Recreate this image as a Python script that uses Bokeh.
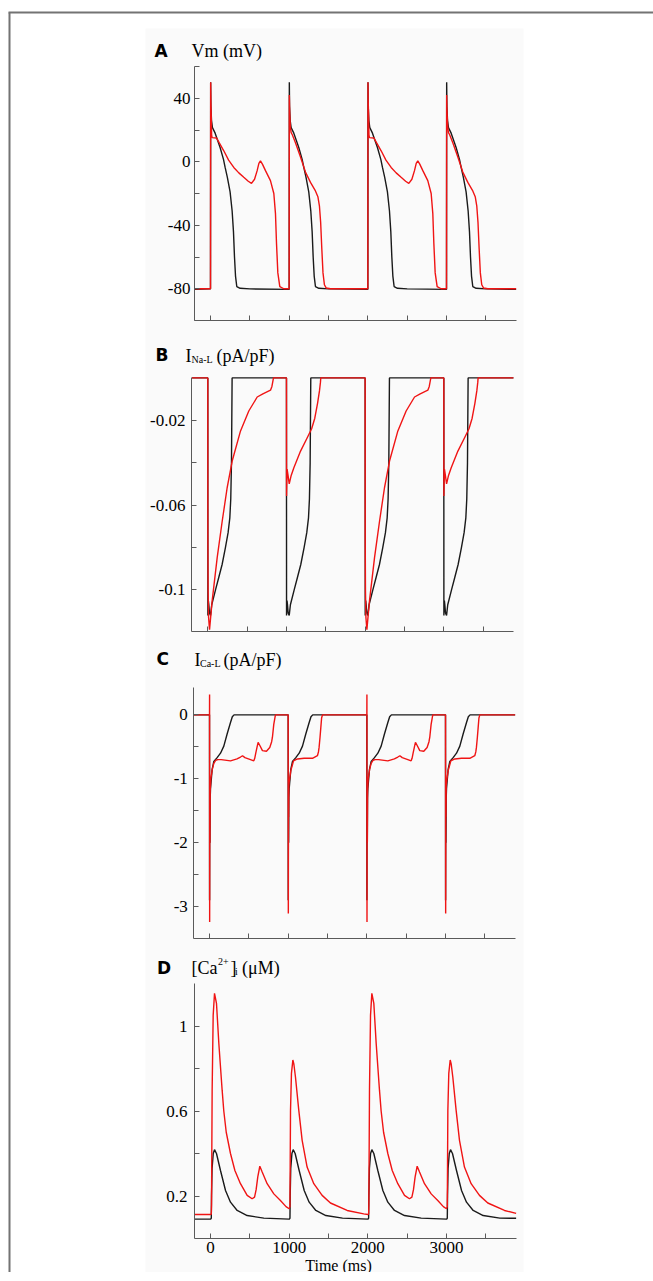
from bokeh.plotting import figure
from bokeh.models import Range1d, FixedTicker, LinearAxis
from bokeh.core.properties import value
from bokeh.embed import file_html
from bokeh.resources import INLINE

# ---------------- data ----------------
BEAT_STARTS = [0, 1000, 2000, 3000]
T_FIRST = -200
T_LAST = 3885
X_TICKS_MAJOR = [0, 1000, 2000, 3000]
X_TICKS_MINOR = [500, 1500, 2500, 3500]
X_TICK_LABELS = ["0", "1000", "2000", "3000"]

# A: membrane potential (mV); times relative to each stimulus
VM_BLACK_T = [0, 2, 5, 13, 25, 59, 122, 165, 186, 215, 249, 275, 292, 305, 318, 334, 377, 500, 1000]
VM_BLACK_V = [-80, 50, 35, 26, 21.5, 18, 9, 1.5, -3.6, -10, -19, -31, -44, -60, -72, -78.6, -79.7, -80.1, -80.4]
VM_RED_LONG_T = [0, 2, 5, 10, 14, 20, 76, 110, 169, 230, 296, 360, 423, 480, 521, 560, 593, 615, 635, 660,
                 699, 762, 805, 826, 839, 856, 881, 932, 1000]
VM_RED_LONG_V = [-80, 50, 38, 28, 17, 15.2, 15, 12, 6.9, 1, -3.6, -7, -9.8, -12.3, -13.6, -11, -5.6, -1, 0.6, -1.5,
                 -5.6, -11.9, -20, -32.7, -51.4, -70, -78.6, -80, -80]
VM_RED_SHORT_T = [0, 2, 5, 8, 15, 25, 40, 80, 144, 207, 271, 330, 365, 385, 400, 415, 430, 448, 470, 525, 1000]
VM_RED_SHORT_V = [-80, 42, 35, 30, 22, 18.3, 17, 12, 3, -6.5, -13, -18, -22, -28, -38, -55, -70, -77.5, -79.5, -80, -80]
VM_REST_BLACK, VM_END_BLACK = -80.4, -80.4
VM_REST_RED, VM_END_RED = -80, -80

# B: late sodium current I_Na-L (pA/pF)
INAL_BLACK_T = [0, 1, 7, 13, 22, 35, 50, 98, 140, 182, 224, 258, 280, 292, 301, 309, 1000]
INAL_BLACK_V = [0, -0.112, -0.105, -0.107, -0.111, -0.112, -0.107, -0.100, -0.094, -0.088, -0.080, -0.073,
                -0.066, -0.057, -0.040, 0, 0]
INAL_RED_LONG_T = [0, 1, 4, 10, 22, 55, 119, 183, 246, 310, 416, 521, 628, 700, 797, 815, 835, 1000]
INAL_RED_LONG_V = [0, -0.075, -0.1, -0.113, -0.1187, -0.1053, -0.0849, -0.0676, -0.0518, -0.0392, -0.025,
                   -0.0156, -0.009, -0.0075, -0.0058, -0.004, 0, 0]
INAL_RED_SHORT_T = [0, 1, 8, 20, 35, 60, 94, 179, 264, 320, 360, 395, 420, 432, 436, 1000]
INAL_RED_SHORT_V = [0, -0.0557, -0.043, -0.046, -0.050, -0.046, -0.0424, -0.0345, -0.0282, -0.024, -0.019,
                    -0.012, -0.006, -0.002, 0, 0]
INAL_REST, INAL_END = 0, 0

# C: L-type calcium current I_Ca-L (pA/pF)
ICAL_BLACK_T = [0, 1, 3, 6, 9, 13, 34, 55, 97, 140, 182, 224, 267, 290, 312, 1000]
ICAL_BLACK_V = [0, -2.9, -1.3, -2.0, -1.3, -1.15, -0.85, -0.73, -0.67, -0.6, -0.49, -0.3, -0.12, -0.03, 0, 0]
ICAL_RED_LONG_T = [0, 1, 2, 4, 6, 9, 17, 34, 55, 80, 106, 148, 267, 350, 394, 420, 450, 521, 563, 575, 588,
                   605, 618, 640, 673, 724, 766, 790, 800, 817, 838, 1000]
ICAL_RED_LONG_V = [0, 0.32, -3.24, -1.0, -2.0, -1.2, -1.0, -0.86, -0.76, -0.71, -0.70, -0.70, -0.72, -0.69,
                   -0.66, -0.64, -0.67, -0.70, -0.72, -0.68, -0.6, -0.5, -0.43, -0.48, -0.56, -0.57, -0.51,
                   -0.42, -0.35, -0.15, 0, 0]
ICAL_RED_SHORT_T = [0, 2, 4, 6, 9, 13, 34, 68, 118, 203, 309, 372, 385, 393, 405, 415, 425, 436, 1000]
ICAL_RED_SHORT_V = [0, -3.11, -1.2, -1.6, -1.1, -1.05, -0.87, -0.72, -0.69, -0.68, -0.68, -0.64, -0.58,
                    -0.51, -0.35, -0.2, -0.05, 0, 0]
ICAL_REST, ICAL_END = 0, 0

# D: intracellular calcium [Ca2+]i (uM)
CAI_BLACK_T = [0, 10, 13, 20, 35, 51, 76, 127, 191, 254, 339, 466, 678, 1000]
CAI_BLACK_V = [0.091, 0.095, 0.2, 0.33, 0.40, 0.418, 0.40, 0.32, 0.226, 0.171, 0.132, 0.108, 0.096, 0.091]
CAI_RED_LONG_T = [0, 10, 13, 21, 34, 51, 76, 106, 148, 169, 200, 254, 310, 381, 466, 529, 560, 580, 601, 627,
                  657, 720, 805, 889, 960, 1000]
CAI_RED_LONG_V = [0.113, 0.115, 0.16, 0.7, 1.05, 1.154, 1.107, 0.918, 0.698, 0.6, 0.5, 0.4, 0.32, 0.258,
                  0.203, 0.187, 0.195, 0.23, 0.29, 0.34, 0.313, 0.258, 0.21, 0.179, 0.15, 0.14]
CAI_RED_SHORT_T = [0, 10, 17, 29, 47, 60, 80, 122, 165, 228, 313, 419, 525, 737, 948, 1000]
CAI_RED_SHORT_V = [0.14, 0.15, 0.6, 0.777, 0.84, 0.82, 0.76, 0.604, 0.462, 0.336, 0.258, 0.203, 0.167,
                   0.132, 0.116, 0.113]
CAI_REST_BLACK, CAI_END_BLACK = 0.091, 0.095
CAI_REST_RED, CAI_END_RED = 0.113, 0.118

# y ticks: labelled (major) and unlabelled (minor)
A_YT = [-80, -40, 0, 40]
A_YT_MINOR = [-100, -60, -20, 20, 60]
B_YT = [-0.1, -0.06, -0.02]
B_YT_MINOR = [-0.08, -0.04]
C_YT = [-3, -2, -1, 0]
C_YT_MINOR = [-2.5, -1.5, -0.5]
D_YT = [0.2, 0.6, 1]
D_YT_MINOR = [0.4, 0.8]

# panel headings
TITLE_A = ["A", "Vm (mV)"]
TITLE_B = ["B", "I", "Na-L", "(pA/pF)"]
TITLE_C = ["C", "I", "Ca-L", "(pA/pF)"]
TITLE_D = ["D", "[Ca", "2+", "]", "i", "(\u03bcM)"]
X_LABEL = "Time (ms)"


def train(shapes, rest, end):
    ts, vs = [T_FIRST], [rest]
    for start, (bt, bv) in zip(BEAT_STARTS, shapes):
        for x, v in zip(bt, bv):
            if start + x < T_LAST:
                ts.append(start + x)
                vs.append(v)
    ts.append(T_LAST)
    vs.append(end)
    return ts, vs


# ---------------- styling / layout (page pixel geometry) ----------------
RED = "#f01414"
BLACK = "#1a1a1a"
AXIS = "#5a5a5a"
FRAME_COL = "#737373"
PANEL_BG = "#fafafa"
SERIF = "Liberation Serif"
SANS = "DejaVu Sans"
W = 653
H = 1272
PX_PER_MS = 0.07867
AXIS_W_PX = 322

# one canvas; default ranges are page pixels (y downwards), each panel has its own data ranges
p = figure(width=W, height=H, min_border=0, title=None,
           x_range=Range1d(0, W), y_range=Range1d(H, 0),
           x_axis_type=None, y_axis_type=None,
           toolbar_location=None, output_backend="svg")
p.outline_line_color = None
p.background_fill_color = "white"
p.border_fill_color = "white"

# grey backdrop of the original image and its frame rules
p.quad(left=[145], right=[523], top=[28], bottom=[H], fill_color=PANEL_BG, line_color=None)
p.line([9, 9], [12, H], line_color=FRAME_COL, line_width=2)
p.line([8, W], [12, 12], line_color=FRAME_COL, line_width=2)


def panel(name, t0_px, axis_px, frame_top_px, v_top, ppu, y0, yt, yt_minor, y_standoff, show_x_labels):
    def xd(px):
        return (px - t0_px) / PX_PER_MS

    def yd(py):
        return v_top - (py - frame_top_px) / ppu

    p.extra_x_ranges[name] = Range1d(xd(0), xd(W))
    p.extra_y_ranges[name] = Range1d(yd(H), yd(0))
    x_start = xd(axis_px)
    x_end = xd(axis_px + AXIS_W_PX)

    ya = LinearAxis(x_range_name=name, y_range_name=name, fixed_location=x_start, bounds=(y0, v_top),
                    ticker=FixedTicker(ticks=yt, minor_ticks=yt_minor),
                    major_label_standoff=y_standoff,
                    major_label_overrides={t: ("1" if t == 1 else str(t)) for t in yt})
    xa = LinearAxis(x_range_name=name, y_range_name=name, fixed_location=y0, bounds=(x_start, x_end),
                    ticker=FixedTicker(ticks=X_TICKS_MAJOR, minor_ticks=X_TICKS_MINOR),
                    major_label_standoff=3,
                    major_label_overrides=(dict(zip(X_TICKS_MAJOR, X_TICK_LABELS)) if show_x_labels
                                           else {t: "" for t in X_TICKS_MAJOR}))
    for ax in (xa, ya):
        ax.axis_line_color = AXIS
        ax.axis_line_width = 1
        ax.major_tick_line_color = AXIS
        ax.minor_tick_line_color = AXIS
        ax.major_tick_in = 5
        ax.major_tick_out = 0
        ax.minor_tick_in = 5
        ax.minor_tick_out = 0
        ax.major_label_text_font = SERIF
        ax.major_label_text_font_size = "17px"
        ax.major_label_text_color = "black"
    p.add_layout(ya, "left")
    p.add_layout(xa, "below")

    def draw(t, v, color):
        p.line(t, v, line_color=color, line_width=1.4, x_range_name=name, y_range_name=name)
    return draw


def texts(items, pos_x, pos_y, sizes, fonts, styles, align="left"):
    for t, px, py, s, f, st in zip(items, pos_x, pos_y, sizes, fonts, styles):
        p.text(x=[px], y=[py], text=[t], text_font=value(f), text_font_size=value(s),
               text_font_style=st, text_color="black", text_align=align, text_baseline="alphabetic")


# Panel A
draw = panel("A", 210, 194, 66, 60, 254 / 160, -100, A_YT, A_YT_MINOR, 4, False)
draw(*train([(VM_BLACK_T, VM_BLACK_V)] * 4, VM_REST_BLACK, VM_END_BLACK), BLACK)
draw(*train([(VM_RED_LONG_T, VM_RED_LONG_V), (VM_RED_SHORT_T, VM_RED_SHORT_V)] * 2, VM_REST_RED, VM_END_RED), RED)
texts(TITLE_A, [154, 191], [50.5, 50.5], ["17px", "18px"], [SANS, SERIF], ["bold", "normal"])

# Panel B
draw = panel("B", 207.3, 191, 377, 0.0002, 254 / 0.1198, -0.1196, B_YT, B_YT_MINOR, 6, False)
draw(*train([(INAL_BLACK_T, INAL_BLACK_V)] * 4, INAL_REST, INAL_END), BLACK)
draw(*train([(INAL_RED_LONG_T, INAL_RED_LONG_V), (INAL_RED_SHORT_T, INAL_RED_SHORT_V)] * 2, INAL_REST, INAL_END), RED)
texts(TITLE_B, [155, 185, 191, 216], [354, 355, 358.5, 355], ["17px", "18px", "10px", "18px"],
      [SANS, SERIF, SERIF, SERIF], ["bold", "normal", "normal", "normal"])

# Panel C
draw = panel("C", 209, 193.3, 687, 0.428, 251 / 3.928, -3.5, C_YT, C_YT_MINOR, 6, False)
draw(*train([(ICAL_BLACK_T, ICAL_BLACK_V)] * 4, ICAL_REST, ICAL_END), BLACK)
draw(*train([(ICAL_RED_LONG_T, ICAL_RED_LONG_V), (ICAL_RED_SHORT_T, ICAL_RED_SHORT_V)] * 2, ICAL_REST, ICAL_END), RED)
texts(TITLE_C, [156, 194, 199.5, 223], [658.5, 659, 663, 659], ["17px", "18px", "10px", "18px"],
      [SANS, SERIF, SERIF, SERIF], ["bold", "normal", "normal", "normal"])

# Panel D
draw = panel("D", 210, 194, 983, 1.2, 255 / 1.2, 0.0, D_YT, D_YT_MINOR, 7, True)
draw(*train([(CAI_BLACK_T, CAI_BLACK_V)] * 4, CAI_REST_BLACK, CAI_END_BLACK), BLACK)
draw(*train([(CAI_RED_LONG_T, CAI_RED_LONG_V), (CAI_RED_SHORT_T, CAI_RED_SHORT_V)] * 2, CAI_REST_RED, CAI_END_RED), RED)
texts(TITLE_D, [156.5, 191, 217.5, 230, 234.5, 241.5], [967.5, 967.5, 961, 967.5, 970.5, 967.5],
      ["17px", "18px", "10px", "18px", "10px", "18px"], [SANS, SERIF, SERIF, SERIF, SERIF, SERIF],
      ["bold", "normal", "normal", "normal", "normal", "normal"])
texts([X_LABEL], [338], [1265], ["16px"], [SERIF], ["normal"], align="center")

open("out.html", "w").write(file_html(p, INLINE))
